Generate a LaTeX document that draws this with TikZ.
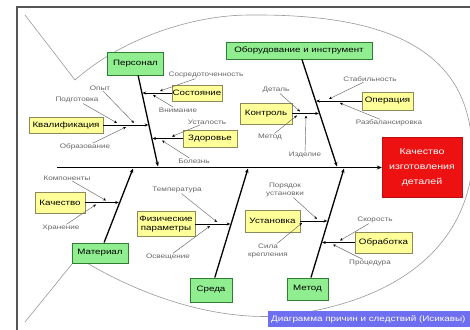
\documentclass[tikz,border=0pt]{standalone}
\usepackage{fontspec}
\setmainfont[FakeStretch=1.25]{Liberation Sans}
\usetikzlibrary{arrows.meta}
\definecolor{gfill}{HTML}{90EE90}
\definecolor{gdraw}{HTML}{2E7D32}
\definecolor{yfill}{HTML}{FFFF99}
\definecolor{ydraw}{HTML}{8A8A5A}
\definecolor{rfill}{HTML}{EE1111}
\definecolor{capblue}{HTML}{6E6EF0}
\definecolor{fishc}{HTML}{999999}
\definecolor{framec}{HTML}{555555}
\definecolor{lblc}{HTML}{666666}
\begin{document}
\begin{tikzpicture}[x=1pt,y=-1pt,
 mainbox/.style={draw=gdraw,fill=gfill,line width=0.9pt,inner sep=0pt,font=\fontsize{7.8}{9}\selectfont,text=black},
 subbox/.style={draw=ydraw,fill=yfill,line width=0.6pt,inner sep=0pt,font=\fontsize{7.8}{9}\selectfont,align=center,text=black},
 lbl/.style={font=\fontsize{6.5}{8}\selectfont,text=lblc,inner sep=0.5pt,align=center},
 bone/.style={line width=1.3pt,-{Stealth[length=4.5pt,width=3.5pt]}},
 branch/.style={line width=0.7pt,-{Stealth[length=3.5pt,width=3pt]}},
 leader/.style={line width=0.45pt,draw=lblc,-{Stealth[length=3pt,width=2.6pt,color=black]}},
 fish/.style={line width=0.6pt,draw=fishc}]
\useasboundingbox (0,0) rectangle (470,329);
\fill[white] (0,0) rectangle (470,329);
% frame
\draw[line width=1.5pt,framec] (17,330) -- (17,7) -- (471,7);
% fish outline
\draw[fish] (25,15) -- (75,80) .. controls (120,40) and (190,15) .. (250,15) .. controls (370,14) and (470,40) .. (472,150);
\draw[fish] (87,263) .. controls (150,300) and (220,320) .. (280,316) .. controls (380,305) and (460,260) .. (472,170);
\draw[fish] (72,264) -- (25,322);
% main boxes
\node[mainbox,minimum width=56pt,minimum height=23pt] (P) at (135.5,63.5) {Персонал};
\node[mainbox,minimum width=146pt,minimum height=17pt] (O) at (299,50.5) {Оборудование и инструмент};
\node[mainbox,minimum width=56pt,minimum height=20pt] (M) at (100,253) {Материал};
\node[mainbox,minimum width=42pt,minimum height=24pt] (S) at (211,290) {Среда};
\node[mainbox,minimum width=41pt,minimum height=22pt] (Me) at (307.5,289) {Метод};
\node[draw=rfill!80!black,fill=rfill,text=white,minimum width=80pt,minimum height=60pt,inner sep=0pt,align=center,font=\fontsize{8.5}{15}\selectfont] (R) at (422,167.5) {Качество\\изготовления\\деталей};
% spine
\coordinate (sp0) at (57,167.5);
\draw[line width=1.3pt,-{Stealth[length=5pt,width=4pt]}] (sp0) -- (R.west);
% bone ends
\coordinate (Pe) at (158,166.5);
\coordinate (Oe) at (337,166.5);
\coordinate (Mb) at (133,168.5);
\coordinate (Sb) at (248,168.5);
\coordinate (Meb) at (344,168.5);
\draw[bone] (P) -- (Pe);
\draw[bone] (O) -- (Oe);
\draw[bone] (M) -- (Mb);
\draw[bone] (S) -- (Sb);
\draw[bone] (Me) -- (Meb);
% sub boxes
\node[subbox,minimum width=50pt,minimum height=16pt] (Sost) at (197,93) {Состояние};
\node[subbox,minimum width=54pt,minimum height=17pt] (Zdor) at (210,138.5) {Здоровье};
\node[subbox,minimum width=74pt,minimum height=16pt] (Kval) at (66,125) {Квалификация};
\node[subbox,minimum width=52pt,minimum height=21pt] (Kontr) at (266,113.5) {Контроль};
\node[subbox,minimum width=51pt,minimum height=18pt] (Oper) at (387.5,101) {Операция};
\node[subbox,minimum width=50pt,minimum height=21pt] (Kach) at (60,202.5) {Качество};
\node[subbox,minimum width=58pt,minimum height=25pt] (Fiz) at (166,224) {Физические\\параметры};
\node[subbox,minimum width=55pt,minimum height=22pt] (Ust) at (272.5,221) {Установка};
\node[subbox,minimum width=57pt,minimum height=21pt] (Obr) at (383.5,242.5) {Обработка};
% branch ends
\coordinate (bSost) at (142.6,93);
\coordinate (bKval) at (148.2,125);
\coordinate (bZdor) at (152.5,138.5);
\coordinate (bOper) at (316.2,101);
\coordinate (bKontr) at (318.8,113.5);
\coordinate (bKach) at (118.8,202.5);
\coordinate (bFiz) at (230.2,224);
\coordinate (bUst) at (327.2,221);
\coordinate (bObr) at (322.2,242.5);
\draw[branch] (Sost.west) -- (bSost);
\draw[branch] (Kval.east) -- (bKval);
\draw[branch] (Zdor.west) -- (bZdor);
\draw[branch] (Oper.west) -- (bOper);
\draw[branch] (Kontr.east) -- (bKontr);
\draw[branch] (Kach.east) -- (bKach);
\draw[branch] (Fiz.east) -- (bFiz);
\draw[branch] (Ust.east) -- (bUst);
\draw[branch] (Obr.west) -- (bObr);
% labels
\node[lbl] (lOpyt) at (100,88) {Опыт};
\node[lbl] (lPodg) at (77,100) {Подготовка};
\node[lbl] (lObraz) at (85,147) {Образование};
\node[lbl] (lSosr) at (206,75) {Сосредоточенность};
\node[lbl] (lVnim) at (178,110) {Внимание};
\node[lbl] (lUstal) at (207,122) {Усталость};
\node[lbl] (lBol) at (194,161) {Болезнь};
\node[lbl] (lDet) at (276,90) {Деталь};
\node[lbl] (lMet) at (270,137) {Метод};
\node[lbl] (lIzd) at (305,155) {Изделие};
\node[lbl] (lStab) at (370,79) {Стабильность};
\node[lbl] (lRazb) at (389,123) {Разбалансировка};
\node[lbl] (lKomp) at (67,178) {Компоненты};
\node[lbl] (lHran) at (61,228) {Хранение};
\node[lbl] (lTemp) at (177,190) {Температура};
\node[lbl] (lOsv) at (168,257) {Освещение};
\node[lbl] (lPor) at (285,190) {Порядок\\установки};
\node[lbl] (lSila) at (268,251) {Сила\\крепления};
\node[lbl] (lSkor) at (375,220) {Скорость};
\node[lbl] (lProc) at (370,263) {Процедура};
% junctions
\coordinate (jOpyt) at (134,123);
\coordinate (jPodg) at (117,123);
\coordinate (jObraz) at (126,127);
\coordinate (jSosr) at (160,91);
\coordinate (jVnim) at (153,95);
\coordinate (jUstal) at (172,136.5);
\coordinate (jBol) at (162,140.5);
\coordinate (jDet) at (300,111.5);
\coordinate (jMet) at (297,115.5);
\coordinate (jIzd) at (306,115.5);
\coordinate (jStab) at (329,99);
\coordinate (jRazb) at (340,103);
\coordinate (jKomp) at (106,200.5);
\coordinate (jHran) at (96,204.5);
\coordinate (jTemp) at (217,222);
\coordinate (jOsv) at (210,226);
\coordinate (jPor) at (317,219);
\coordinate (jSila) at (302,223);
\coordinate (jSkor) at (340,240.5);
\coordinate (jProc) at (333,244.5);
\foreach \n in {Opyt,Podg,Obraz,Sosr,Vnim,Ustal,Bol,Det,Met,Izd,Stab,Razb,Komp,Hran,Temp,Osv,Por,Sila,Skor,Proc}
  \draw[leader] (l\n) -- (j\n);
% caption
\fill[capblue] (268,311) rectangle (471,327);
\node[anchor=west,inner xsep=3pt,inner ysep=0pt,text=white,font=\fontsize{7.9}{9}\selectfont] (cap) at (268,319) {Диаграмма причин и следствий (Исикавы)};
\end{tikzpicture}
\end{document}
